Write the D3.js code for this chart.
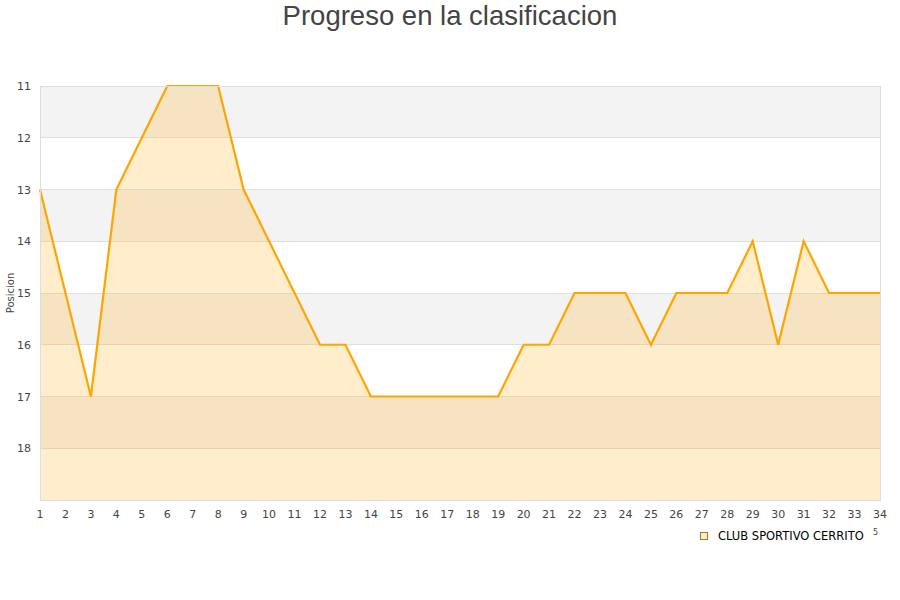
<!DOCTYPE html>
<html><head><meta charset="utf-8">
<script src="https://cdn.jsdelivr.net/npm/d3@7"></script>
<style>body{margin:0;background:#fff}</style>
</head><body>
<svg id="c" width="900" height="600"></svg>
<script>
const title = "Progreso en la clasificacion";
const yLabel = "Posicion";
const seriesName = "CLUB SPORTIVO CERRITO";
const jornadas = d3.range(1, 35);
const posiciones = [13,15,17,13,12,11,11,11,13,14,15,16,16,17,17,17,17,17,17,16,16,15,15,15,16,15,15,15,14,16,14,15,15,15];
const yTicks = [11,12,13,14,15,16,17,18];

const svg = d3.select("#c");
const m = {l:40, r:880, t:86, b:500};
const x = d3.scaleLinear().domain([1,34]).range([m.l, m.r]);
const y = d3.scaleLinear().domain([11,19]).range([m.t, m.b]);

const bands = [11,13,15,17];
svg.selectAll("rect.band").data(bands).enter().append("rect")
  .attr("x", m.l).attr("width", m.r-m.l)
  .attr("y", d=>y(d)).attr("height", d=>y(d+1)-y(d))
  .attr("fill", "#f3f3f3");
svg.selectAll("line.grid").data(d3.range(12,19)).enter().append("line")
  .attr("x1", m.l).attr("x2", m.r).attr("y1", d=>y(d)).attr("y2", d=>y(d))
  .attr("stroke", "#e0e0e0").attr("stroke-width", 1).attr("shape-rendering","crispEdges");

const data = jornadas.map((j,i)=>({j, p:posiciones[i]}));
svg.append("path").datum(data)
  .attr("d", d3.area().x(d=>x(d.j)).y0(y(19)).y1(d=>y(d.p)))
  .attr("fill", "rgba(255,165,0,0.2)");
svg.append("path").datum(data)
  .attr("d", d3.line().x(d=>x(d.j)).y(d=>y(d.p)))
  .attr("fill", "none").attr("stroke", "#ffa500").attr("stroke-width", 2.2);

svg.append("rect").attr("x", m.l+0.5).attr("y", m.t+0.5).attr("width", m.r-m.l).attr("height", m.b-m.t)
  .attr("fill","none").attr("stroke","#ddd");

svg.selectAll("text.yt").data(yTicks).enter().append("text")
  .attr("x", 31).attr("y", d=>y(d)+4).attr("text-anchor","end")
  .attr("font-family","DejaVu Sans").attr("font-size",11).attr("fill","#444")
  .text(d=>d);
svg.selectAll("text.xt").data(jornadas).enter().append("text")
  .attr("x", d=>x(d)).attr("y", 518).attr("text-anchor","middle")
  .attr("font-family","DejaVu Sans").attr("font-size",11).attr("fill","#444")
  .text(d=>d);

svg.append("text").attr("x",450).attr("y",25).attr("text-anchor","middle")
  .attr("font-family","Liberation Sans").attr("font-size",27.5).attr("fill","#444").text(title);

svg.append("text").attr("transform","translate(14,293) rotate(-90)").attr("text-anchor","middle")
  .attr("font-family","DejaVu Sans").attr("font-size",10).attr("fill","#444").text(yLabel);

svg.append("rect").attr("x",700.5).attr("y",532.5).attr("width",7).attr("height",7)
  .attr("fill","#ffedcc").attr("stroke","#a07830");
svg.append("text").attr("x",718).attr("y",540).attr("font-family","DejaVu Sans").attr("font-size",11.5)
  .attr("fill","#000").text(seriesName);
svg.append("text").attr("x",873).attr("y",535).attr("font-family","DejaVu Sans").attr("font-size",8)
  .attr("fill","#444").text("5");
</script>
</body></html>
